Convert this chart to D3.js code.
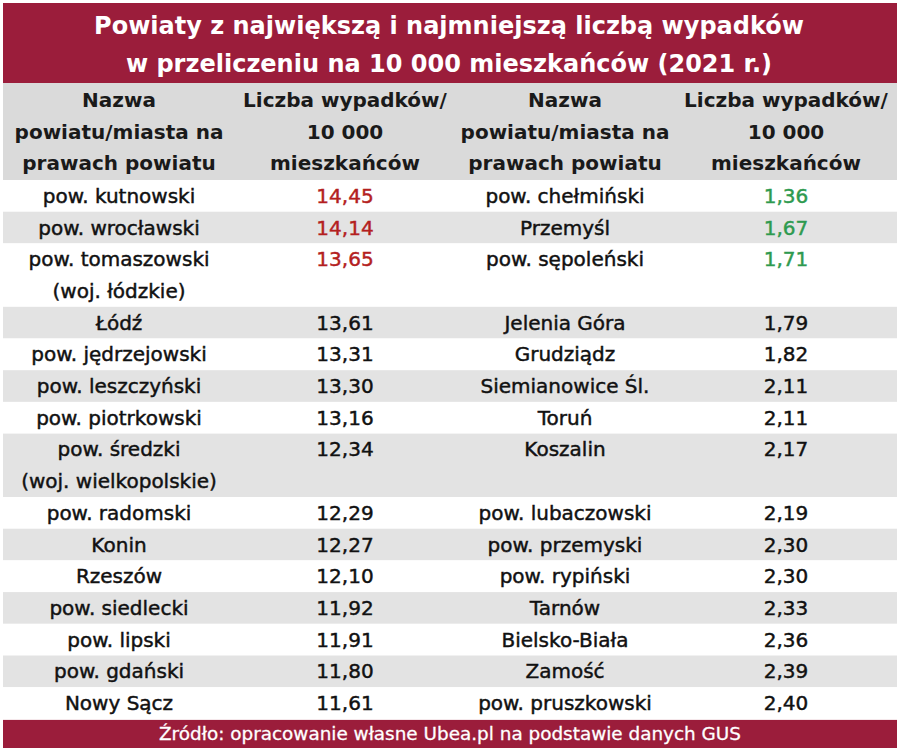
<!DOCTYPE html>
<html>
<head>
<meta charset="utf-8">
<script src="https://cdn.jsdelivr.net/npm/d3@7"></script>
<style>
  body { margin: 0; background: #fff; }
  svg text { font-family: "DejaVu Sans", "Open Sans", sans-serif; }
</style>
</head>
<body>
<script>
const titleLines = ["Powiaty z największą i najmniejszą liczbą wypadków",
                    "w przeliczeniu na 10 000 mieszkańców (2021 r.)"];
const headerName = ["Nazwa", "powiatu/miasta na", "prawach powiatu"];
const headerValue = ["Liczba wypadków/", "10 000", "mieszkańców"];
const source = "Źródło: opracowanie własne Ubea.pl na podstawie danych GUS";

const topNames = ["pow. kutnowski", "pow. wrocławski", "pow. tomaszowski\n(woj. łódzkie)", "Łódź",
  "pow. jędrzejowski", "pow. leszczyński", "pow. piotrkowski", "pow. średzki\n(woj. wielkopolskie)",
  "pow. radomski", "Konin", "Rzeszów", "pow. siedlecki", "pow. lipski", "pow. gdański", "Nowy Sącz"];
const topValues = ["14,45", "14,14", "13,65", "13,61", "13,31", "13,30", "13,16", "12,34",
  "12,29", "12,27", "12,10", "11,92", "11,91", "11,80", "11,61"];
const bottomNames = ["pow. chełmiński", "Przemyśl", "pow. sępoleński", "Jelenia Góra", "Grudziądz",
  "Siemianowice Śl.", "Toruń", "Koszalin", "pow. lubaczowski", "pow. przemyski", "pow. rypiński",
  "Tarnów", "Bielsko-Biała", "Zamość", "pow. pruszkowski"];
const bottomValues = ["1,36", "1,67", "1,71", "1,79", "1,82", "2,11", "2,11", "2,17", "2,19",
  "2,30", "2,30", "2,33", "2,36", "2,39", "2,40"];
const highlighted = 3;

const width = 900, height = 750;
const left = 3, right = 897;
const lineH = 31.7;
const titleH = 83, headTop = 83, bodyTop = 180;
const red = "#9b1d3b", gray = "#e3e3e3";

const svg = d3.select("body").append("svg")
  .attr("width", width).attr("height", height);

// title band
svg.append("rect").attr("x", left).attr("y", 3).attr("width", right - left).attr("height", titleH - 3)
  .attr("fill", red);
svg.selectAll("text.title").data(titleLines).enter().append("text")
  .attr("class", "title")
  .attr("x", width / 2 - 1).attr("y", (d, i) => 34 + i * 38)
  .attr("text-anchor", "middle").attr("fill", "#fff")
  .attr("font-size", 24).attr("font-weight", "bold")
  .text(d => d);

// columns
const cols = d3.scaleOrdinal().domain(["n1", "v1", "n2", "v2"]).range([119, 345, 565, 786]);

// header band
svg.append("rect").attr("x", left).attr("y", headTop).attr("width", right - left).attr("height", bodyTop - headTop)
  .attr("fill", "#dadada");
const head = svg.append("g");
[["n1", headerName], ["v1", headerValue], ["n2", headerName], ["v2", headerValue]].forEach(([c, lines]) => {
  head.selectAll(null).data(lines).enter().append("text")
    .attr("x", cols(c)).attr("y", (d, i) => headTop + lineH / 2 + 1 + i * lineH + 7)
    .attr("text-anchor", "middle").attr("font-size", 20).attr("font-weight", "bold").attr("fill", "#1a1a1a")
    .text(d => d);
});

// rows
const rows = topNames.map((n, i) => {
  const a = n.split("\n"), b = bottomNames[i].split("\n");
  return { i, n1: a, v1: topValues[i], n2: b, v2: bottomValues[i], lines: Math.max(a.length, b.length) };
});
const offsets = [0, ...d3.cumsum(rows, d => d.lines)];
const y = d3.scaleLinear().domain([0, d3.sum(rows, d => d.lines)]).range([bodyTop, bodyTop + lineH * d3.sum(rows, d => d.lines)]);

const g = svg.selectAll("g.row").data(rows).enter().append("g").attr("class", "row")
  .attr("transform", d => `translate(0, ${y(offsets[d.i])})`);
g.append("rect").attr("x", left).attr("width", right - left)
  .attr("height", d => y(d.lines) - y(0))
  .attr("fill", d => d.i % 2 ? gray : "#fff");

function cell(sel, color) {
  return sel.attr("text-anchor", "middle").attr("font-size", 20)
    .attr("fill", color).attr("stroke", color).attr("stroke-width", 0.45);
}

["n1", "n2"].forEach(c => {
  g.each(function (d) {
    d3.select(this).selectAll(null).data(d[c]).enter().append("text")
      .attr("x", cols(c)).attr("y", (t, k) => lineH / 2 + 7 + k * lineH)
      .call(cell, "#111")
      .text(t => t);
  });
});
g.each(function (d) {
  d3.select(this).append("text").attr("x", cols("v1")).attr("y", lineH / 2 + 7)
    .call(cell, d.i < highlighted ? "#b41f1f" : "#111").text(d.v1);
  d3.select(this).append("text").attr("x", cols("v2")).attr("y", lineH / 2 + 7)
    .call(cell, d.i < highlighted ? "#2e9a4f" : "#111").text(d.v2);
});

// footer
const footTop = y(d3.sum(rows, d => d.lines)) + 1;
svg.append("rect").attr("x", left).attr("y", footTop).attr("width", right - left).attr("height", 748 - footTop)
  .attr("fill", red);
svg.append("text").attr("x", width / 2).attr("y", footTop + 20)
  .attr("text-anchor", "middle").attr("fill", "#fff").attr("font-size", 18)
  .attr("stroke", "#fff").attr("stroke-width", 0.3)
  .attr("textLength", 582).attr("lengthAdjust", "spacingAndGlyphs")
  .text(source);
</script>
</body>
</html>
